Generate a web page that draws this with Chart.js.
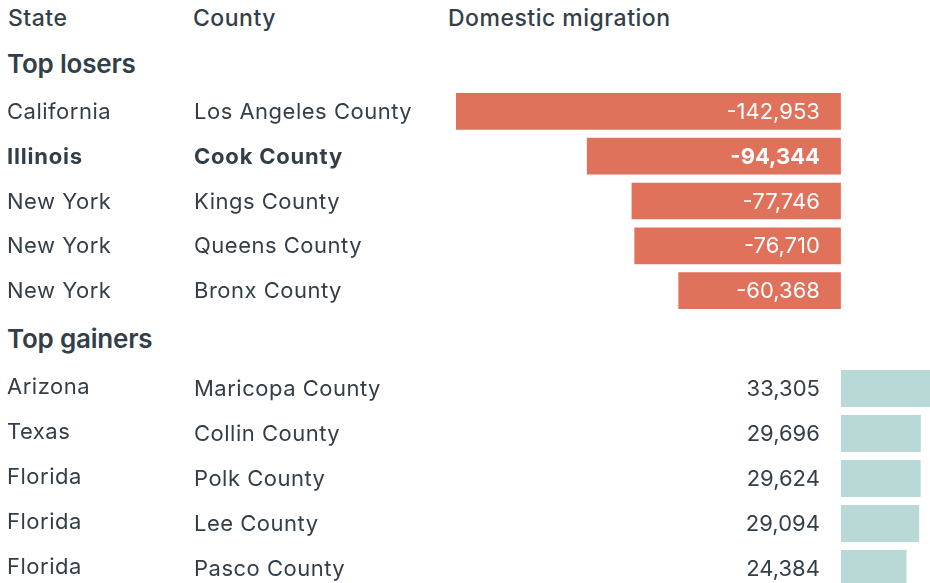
<!DOCTYPE html>
<html>
<head>
<meta charset="utf-8">
<script src="https://cdn.jsdelivr.net/npm/chart.js@4.4.0/dist/chart.umd.min.js"></script>
<style>
  html, body { margin: 0; padding: 0; background: #fff; overflow: hidden; }
  #wrap { position: relative; width: 930px; height: 583px; overflow: hidden;
          font-family: Inter, "Noto Sans", sans-serif; color: #333f48; }
  canvas { position: absolute; left: 0; }
  .lbl { position: absolute; white-space: nowrap; line-height: 1; }
  .head { font-size: 23px; font-weight: 500; top: 7px; letter-spacing: 0.5px; }
  .section { font-size: 26px; font-weight: 600; left: 7px; letter-spacing: -0.2px; }
</style>
</head>
<body>
<div id="wrap">
  <div class="lbl head" id="h0" style="left:8px"></div>
  <div class="lbl head" id="h1" style="left:193px"></div>
  <div class="lbl head" id="h2" style="left:448px"></div>
  <div class="lbl section" id="s0" style="top:51px"></div>
  <div class="lbl section" id="s1" style="top:326px"></div>
  <canvas id="losers" width="930" height="224" style="top:89px"></canvas>
  <canvas id="gainers" width="930" height="225" style="top:366px"></canvas>
</div>
<script>
// column headings and section titles
const columnHeaders = ['State', 'County', 'Domestic migration'];
const sections = ['Top losers', 'Top gainers'];

// top losers
const loserStates = ['California', 'Illinois', 'New York', 'New York', 'New York'];
const loserCounties = ['Los Angeles County', 'Cook County', 'Kings County', 'Queens County', 'Bronx County'];
const loserValues = [-142953, -94344, -77746, -76710, -60368];

// top gainers
const gainerStates = ['Arizona', 'Texas', 'Florida', 'Florida', 'Florida'];
const gainerCounties = ['Maricopa County', 'Collin County', 'Polk County', 'Lee County', 'Pasco County'];
const gainerValues = [33305, 29696, 29624, 29094, 24384];

const highlighted = 'Cook County';

const FONT = 'Inter, "Noto Sans", sans-serif';
const TEXT = '#333f48';
const RED = '#e0715a';
const TEAL = '#b8d9d6';

columnHeaders.forEach((t, i) => document.getElementById('h' + i).textContent = t);
sections.forEach((t, i) => document.getElementById('s' + i).textContent = t);

const fmt = n => (n < 0 ? '-' : '') + Math.abs(n).toLocaleString('en-US');

function tablePlugin(states, counties, stateShift) {
  return {
    id: 'tableText',
    afterDatasetsDraw(chart) {
      const ctx = chart.ctx;
      const y = chart.scales.y;
      const x0 = chart.scales.x.getPixelForValue(0);
      const values = chart.data.datasets[0].data;
      ctx.save();
      ctx.textBaseline = 'middle';
      values.forEach((v, i) => {
        const py = y.getPixelForValue(i) + 1;
        const bold = counties[i] === highlighted;
        ctx.font = (bold ? '700 ' : '400 ') + '22px ' + FONT;
        ctx.fillStyle = TEXT;
        ctx.textAlign = 'left';
        ctx.letterSpacing = bold ? '0.8px' : '0.5px';
        ctx.fillText(states[i], 7, py + stateShift);
        ctx.fillText(counties[i], 194, py);
        ctx.letterSpacing = '0px';
        ctx.textAlign = 'right';
        ctx.fillStyle = v < 0 ? '#ffffff' : TEXT;
        ctx.fillText(fmt(v), x0 - 21, py);
      });
      ctx.restore();
    }
  };
}

function makeChart(id, states, counties, values, color, stateShift) {
  return new Chart(document.getElementById(id), {
    type: 'bar',
    data: {
      labels: counties,
      datasets: [{
        data: values,
        backgroundColor: color,
        borderWidth: 0,
        categoryPercentage: 1,
        barPercentage: 0.82
      }]
    },
    options: {
      indexAxis: 'y',
      responsive: false,
      animation: false,
      layout: { padding: { left: 456, right: 0, top: 0, bottom: 0 } },
      plugins: { legend: { display: false }, tooltip: { enabled: false } },
      scales: {
        x: { display: false, min: -142953, max: 33100 },
        y: { display: false, offset: true }
      }
    },
    plugins: [tablePlugin(states, counties, stateShift)]
  });
}

makeChart('losers', loserStates, loserCounties, loserValues, RED, 0);
makeChart('gainers', gainerStates, gainerCounties, gainerValues, TEAL, -2);
</script>
</body>
</html>
